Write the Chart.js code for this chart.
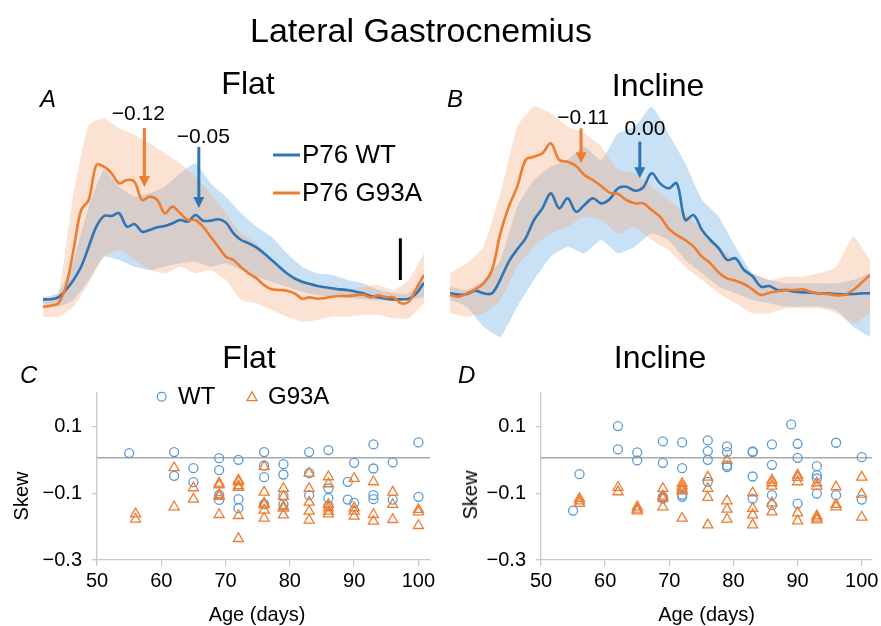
<!DOCTYPE html>
<html>
<head>
<meta charset="utf-8">
<script src="https://cdn.jsdelivr.net/npm/chart.js@4.4.0/dist/chart.umd.min.js"></script>
<style>
  html, body { margin: 0; background: #fff; }
  #page { position: relative; width: 881px; height: 626px; overflow: hidden; background: #fff;
          font-family: 'Liberation Sans', Arial, Helvetica, sans-serif; color: #000; }
  #page canvas { position: absolute; }
  .txt { position: absolute; white-space: nowrap; line-height: 1; }
</style>
</head>
<body>
<div id="page">
  <canvas id="flatTrace" width="440" height="330" style="left:0;top:40px"></canvas>
  <canvas id="inclineTrace" width="441" height="330" style="left:440px;top:40px"></canvas>
  <canvas id="flatSkew" width="440" height="246" style="left:0;top:380px"></canvas>
  <canvas id="inclineSkew" width="441" height="246" style="left:440px;top:380px"></canvas>
</div>
<script>
const FONT = "'Liberation Sans', Arial, Helvetica, sans-serif";

// % of gait cycle for the mean traces and for the shaded bands
const traceX = [0, 2, 4, 6, 8, 10, 12, 14, 16, 18, 20, 22, 24, 26, 28, 30, 32, 34, 36, 38, 40, 42, 44, 46, 48, 50,
  52, 54, 56, 58, 60, 62, 64, 66, 68, 70, 72, 74, 76, 78, 80, 82, 84, 86, 88, 90, 92, 94, 96, 98, 100];
const bandX = [0, 4, 8, 12, 16, 20, 24, 28, 32, 36, 40, 44, 48, 52, 56, 60, 64, 68, 72, 76, 80, 84, 88, 92, 96, 100];

// Flat (A)
const flatWtMean = [8.2, 8.2, 8.8, 11, 14, 18, 24, 30, 33.2, 33.2, 34, 30, 30.8, 28.5, 29, 29.8, 30.2, 31, 32, 31.5,
  33.5, 31.8, 31.8, 32.2, 31.2, 28, 26, 25, 23.8, 22, 20, 18, 16, 14.5, 13.5, 12.8, 12.2, 11.8, 11.5, 11.2, 11,
  10.5, 10, 9.2, 8.8, 8.4, 8.2, 8.2, 8.4, 10, 13.2];
const flatG93aMean = [6, 6.3, 7, 12, 23, 35, 38, 48.5, 48, 46, 43, 44, 43.5, 38, 39, 38, 34, 36, 34, 32, 32, 30, 27,
  24, 21, 20, 17.8, 16, 14.5, 12.5, 11.2, 11, 10.8, 10, 8.4, 8.8, 8.4, 8.6, 9, 9.2, 9.2, 9.4, 9.6, 8.8, 9.4, 8.8,
  8.8, 7, 7.5, 11.5, 15.5];
const flatWtUpper = [8.8, 10, 20, 36, 47, 42, 39, 40, 42, 46, 49, 43, 39, 34, 30, 27, 22, 18, 16, 15.5, 14, 13, 11, 10, 10, 14];
const flatWtLower = [7, 6, 8, 14, 21, 20, 18, 17, 18, 19, 19.5, 18, 19, 17, 15, 13.5, 12, 10.5, 9.5, 9, 8.5, 8.2, 7.8, 7.8, 8, 8.8];
const flatG93aUpper = [8, 10, 40, 60.5, 62.5, 59.5, 57.5, 55, 52, 49, 45, 40, 34, 28, 25, 20, 16, 14, 12, 12, 11, 12, 12.5, 11, 14, 22];
const flatG93aLower = [3, 3, 6, 13, 21, 23, 20, 17, 16, 18, 16, 17, 14, 8, 7, 5, 3, 1.5, 2, 3, 3, 3.5, 3.5, 2.5, 2.5, 7];

// Incline (B)
const inclineWtMean = [10, 9.6, 9.8, 10.8, 10, 10, 14.2, 19.5, 23.2, 26.5, 32, 35.5, 40, 35.5, 38.5, 34.5, 36.5,
  38.5, 37, 38.2, 41.5, 42, 40.8, 41.8, 46, 43, 41.5, 43, 32, 33.5, 29, 26, 23.5, 20, 20.5, 17, 15.2, 12, 12.2, 11,
  11, 10.5, 10.3, 10.2, 10, 10, 9.8, 9.7, 9.8, 10, 10];
const inclineG93aMean = [9.5, 9, 10, 11.2, 13, 17, 28, 36, 42, 50, 51, 52, 55, 50, 49.5, 48.2, 45.5, 44, 42.2, 40.2,
  39.8, 38, 37, 37, 35, 33, 29.5, 27.5, 26, 24, 21, 19, 16.2, 14.5, 13.8, 12.8, 11.2, 9.5, 10.2, 10.6, 11, 11, 11.2,
  10.4, 10, 9.8, 9.4, 9.6, 11, 13.2, 15.5];
const inclineWtUpper = [12, 11, 14, 20, 36, 44, 48, 50, 54, 50, 58, 60, 66, 58, 49, 38, 33, 24, 16, 14, 13, 13, 13, 13, 14, 16];
const inclineWtLower = [8, 6, 0, -3, 6, 14, 21, 24, 22, 26, 22, 24, 28, 26, 20, 16, 12, 10, 8, 7, 6, 6, 6, 5, 0, -3];
const inclineG93aUpper = [16, 19, 24, 40, 60, 66, 64, 60, 58, 54, 47, 46, 42, 38, 34, 29, 24, 20, 16, 14, 15, 15, 16, 18, 27, 20];
const inclineG93aLower = [4, 3, 4, 8, 18, 24, 28, 30, 33, 32, 28, 30, 26, 23, 18, 14, 10, 7, 4, 4, 5.5, 5.5, 5.5, 4, 1, 4];

// skew arrows: where on the cycle, arrow span, label and where the label sits
const flatArrows = [
  { text: '\u22120.12', group: 'G93A', at: 26.6, from: 59.6, to: 41.9, tx: 25.0, ty: 63.8 },
  { text: '\u22120.05', group: 'WT', at: 40.9, from: 53.9, to: 35.6, tx: 42.1, ty: 56.8 },
];
const inclineArrows = [
  { text: '\u22120.11', group: 'G93A', at: 31.2, from: 59.5, to: 49, tx: 31.7, ty: 62.6 },
  { text: '0.00', group: 'WT', at: 45.2, from: 55.5, to: 44.5, tx: 46.4, ty: 59.3 },
];
const flatScaleBar = { at: 93.8, from: 14, to: 26.5 };

// skew by age (days)
const ageTicks = [50, 60, 70, 80, 90, 100];
const skewTicks = [-0.3, -0.1, 0.1];
const refSkew = 0.006;

const flatWT = [
  [55, 0.020], [62, 0.023], [62, -0.048], [65, -0.025], [65, -0.067],
  [69, 0.005], [69, -0.031], [69, -0.105], [69, -0.120], [72, 0.000], [72, -0.118], [72, -0.145],
  [76, 0.023], [76, -0.017], [76, -0.052], [76, -0.133], [79, -0.013], [79, -0.044], [79, -0.107], [79, -0.133],
  [83, 0.023], [83, -0.040], [83, -0.106], [86, 0.029], [86, -0.086], [86, -0.115], [86, -0.138],
  [89, -0.066], [89, -0.119], [90, -0.009], [90, -0.129], [93, 0.046], [93, -0.026], [93, -0.106], [93, -0.118],
  [96, -0.008], [96, -0.119], [100, 0.052], [100, -0.111],
];
const flatG93A = [
  [56, -0.162], [56, -0.178], [62, -0.024], [62, -0.141], [65, -0.084], [65, -0.118],
  [69, -0.070], [69, -0.075], [69, -0.105], [69, -0.110], [69, -0.164],
  [72, -0.061], [72, -0.066], [72, -0.078], [72, -0.083], [72, -0.167], [72, -0.236],
  [76, -0.021], [76, -0.097], [76, -0.130], [76, -0.135], [76, -0.151], [76, -0.175],
  [79, -0.086], [79, -0.110], [79, -0.140], [79, -0.145], [79, -0.165],
  [83, -0.040], [83, -0.086], [83, -0.127], [83, -0.154], [83, -0.181],
  [86, -0.051], [86, -0.072], [86, -0.134], [86, -0.144], [86, -0.154], [86, -0.162],
  [90, -0.056], [90, -0.144], [90, -0.154], [90, -0.169], [93, -0.066], [93, -0.164], [93, -0.184],
  [96, -0.097], [96, -0.134], [96, -0.179], [100, -0.149], [100, -0.156], [100, -0.197],
];
const inclineWT = [
  [55, -0.152], [56, -0.043], [62, 0.101], [62, 0.031], [65, 0.022], [65, -0.002],
  [69, 0.055], [69, -0.009], [69, -0.110], [69, -0.116], [72, 0.052], [72, -0.025], [72, -0.105], [72, -0.111],
  [76, 0.058], [76, 0.026], [76, 0.000], [76, -0.066], [79, 0.040], [79, 0.023], [79, -0.017], [79, -0.022],
  [83, 0.025], [83, 0.023], [83, -0.050], [83, -0.116], [86, 0.046], [86, -0.015], [86, -0.106], [86, -0.136],
  [89, 0.106], [90, 0.048], [90, 0.006], [90, -0.131], [93, -0.019], [93, -0.046], [93, -0.056], [93, -0.101],
  [96, 0.051], [96, -0.106], [100, 0.008], [100, -0.119],
];
const inclineG93A = [
  [56, -0.116], [56, -0.123], [56, -0.131], [62, -0.083], [62, -0.096], [65, -0.141], [65, -0.148], [65, -0.153],
  [69, -0.086], [69, -0.109], [69, -0.116], [69, -0.141], [72, -0.071], [72, -0.079], [72, -0.087], [72, -0.093], [72, -0.175],
  [76, -0.052], [76, -0.086], [76, -0.113], [76, -0.195], [79, -0.002], [79, -0.123], [79, -0.148], [79, -0.178],
  [83, -0.099], [83, -0.146], [83, -0.165], [83, -0.195], [86, -0.061], [86, -0.069], [86, -0.079], [86, -0.129], [86, -0.156],
  [90, -0.046], [90, -0.053], [90, -0.066], [90, -0.159], [90, -0.183], [93, -0.069], [93, -0.079], [93, -0.168], [93, -0.175], [93, -0.180],
  [96, -0.081], [96, -0.134], [96, -0.141], [100, -0.052], [100, -0.103], [100, -0.172],
];

const BLUE = '#2e75b6';
const ORANGE = '#ed7d31';
const BLUE_BAND = 'rgba(120,180,230,0.4)';
const ORANGE_BAND = 'rgba(245,165,115,0.32)';
const MARK_BLUE = '#5b9bd5';
const MARK_ORANGE = '#ed7d31';
const AXIS = '#c8c8c8';
const groupColor = { WT: BLUE, G93A: ORANGE };

Chart.defaults.font.family = FONT;
Chart.defaults.color = '#000';

const pts = (xs, ys) => xs.map((x, i) => ({ x, y: ys[i] }));
const fmtSkew = v => (v < 0 ? '\u2212' : '') + Math.abs(v).toFixed(1);

// arrows, scale bar and the P76 legend on the trace panels
const traceDecor = {
  id: 'traceDecor',
  afterDatasetsDraw(chart, args, o) {
    const { ctx } = chart;
    const { x, y } = chart.scales;
    ctx.save();
    o.arrows.forEach(a => {
      const px = x.getPixelForValue(a.at);
      const y0 = y.getPixelForValue(a.from);
      const y1 = y.getPixelForValue(a.to);
      ctx.strokeStyle = ctx.fillStyle = groupColor[a.group];
      ctx.lineWidth = 3;
      ctx.beginPath();
      ctx.moveTo(px, y0);
      ctx.lineTo(px, y1 - 9);
      ctx.stroke();
      ctx.beginPath();
      ctx.moveTo(px - 5.5, y1 - 11);
      ctx.lineTo(px + 5.5, y1 - 11);
      ctx.lineTo(px, y1);
      ctx.closePath();
      ctx.fill();
      ctx.fillStyle = '#000';
      ctx.font = `21px ${FONT}`;
      ctx.textAlign = 'center';
      ctx.textBaseline = 'middle';
      ctx.fillText(a.text, x.getPixelForValue(a.tx), y.getPixelForValue(a.ty));
    });
    if (o.bar) {
      const px = x.getPixelForValue(o.bar.at);
      ctx.strokeStyle = '#000';
      ctx.lineWidth = 3;
      ctx.beginPath();
      ctx.moveTo(px, y.getPixelForValue(o.bar.from));
      ctx.lineTo(px, y.getPixelForValue(o.bar.to));
      ctx.stroke();
    }
    if (o.legend) {
      ctx.font = `26px ${FONT}`;
      ctx.textAlign = 'left';
      ctx.textBaseline = 'middle';
      o.legend.forEach((item, i) => {
        const ly = 115 + i * 38;
        ctx.strokeStyle = groupColor[item.group];
        ctx.lineWidth = 3;
        ctx.beginPath();
        ctx.moveTo(273, ly);
        ctx.lineTo(300, ly);
        ctx.stroke();
        ctx.fillStyle = '#000';
        ctx.fillText(item.text, 302, ly + 1);
      });
    }
    ctx.restore();
  }
};

function traceChart(id, wtMean, gMean, wtUp, wtLo, gUp, gLo, padding, decor) {
  const band = (data, fill, color) => ({
    data, fill, backgroundColor: color, borderColor: 'transparent', borderWidth: 0, pointRadius: 0, tension: 0.15
  });
  return new Chart(document.getElementById(id), {
    type: 'line',
    data: {
      datasets: [
        { data: pts(traceX, gMean), borderColor: ORANGE, borderWidth: 2.6, pointRadius: 0, tension: 0.35, fill: false },
        { data: pts(traceX, wtMean), borderColor: BLUE, borderWidth: 2.6, pointRadius: 0, tension: 0.35, fill: false },
        band(pts(bandX, gUp), '+1', ORANGE_BAND),
        band(pts(bandX, gLo), false, 'transparent'),
        band(pts(bandX, wtUp), '+1', BLUE_BAND),
        band(pts(bandX, wtLo), false, 'transparent'),
      ]
    },
    options: {
      responsive: false,
      animation: false,
      devicePixelRatio: 1,
      layout: { padding },
      scales: {
        x: { type: 'linear', min: 0, max: 100, display: false },
        y: { min: -10, max: 80, display: false }
      },
      plugins: { legend: { display: false }, tooltip: { enabled: false }, traceDecor: decor }
    },
    plugins: [traceDecor]
  });
}

// zero line and the WT / G93A key on the skew panels
const skewDecor = {
  id: 'skewDecor',
  beforeDatasetsDraw(chart, args, o) {
    const { ctx, chartArea } = chart;
    const py = chart.scales.y.getPixelForValue(o.ref);
    ctx.save();
    ctx.strokeStyle = '#aaaaaa';
    ctx.lineWidth = 1.5;
    ctx.beginPath();
    ctx.moveTo(chartArea.left, py);
    ctx.lineTo(chartArea.right, py);
    ctx.stroke();
    ctx.restore();
  },
  afterDraw(chart, args, o) {
    if (!o.legend) return;
    const { ctx } = chart;
    const ly = 16.7;
    ctx.save();
    ctx.lineWidth = 1.3;
    ctx.strokeStyle = MARK_BLUE;
    ctx.beginPath();
    ctx.arc(161.7, ly, 4.4, 0, Math.PI * 2);
    ctx.stroke();
    ctx.strokeStyle = MARK_ORANGE;
    ctx.beginPath();
    for (let k = 0; k < 3; k++) {
      const ang = k * 2 * Math.PI / 3;
      const vx = 252 + Math.sin(ang) * 5.8, vy = ly + 1 - Math.cos(ang) * 5.8;
      k ? ctx.lineTo(vx, vy) : ctx.moveTo(vx, vy);
    }
    ctx.closePath();
    ctx.stroke();
    ctx.fillStyle = '#000';
    ctx.font = `24px ${FONT}`;
    ctx.textAlign = 'left';
    ctx.textBaseline = 'middle';
    ctx.fillText('WT', 178, ly + 1);
    ctx.fillText('G93A', 268, ly + 1);
    ctx.restore();
  }
};

function skewChart(id, wt, g, o) {
  const toPts = arr => arr.map(([x, y]) => ({ x, y }));
  return new Chart(document.getElementById(id), {
    type: 'scatter',
    data: {
      datasets: [
        { data: toPts(g), pointStyle: 'triangle', pointRadius: 5.8, pointBorderWidth: 1.3,
          borderColor: MARK_ORANGE, backgroundColor: 'transparent' },
        { data: toPts(wt), pointStyle: 'circle', pointRadius: 4.5, pointBorderWidth: 1.3,
          borderColor: MARK_BLUE, backgroundColor: 'transparent' },
      ]
    },
    options: {
      responsive: false,
      animation: false,
      devicePixelRatio: 1,
      layout: { padding: { top: 13, right: o.right, left: 0, bottom: 0 } },
      scales: {
        x: {
          type: 'linear', min: 50, max: o.xMax,
          afterBuildTicks: s => { s.ticks = ageTicks.map(value => ({ value })); },
          afterFit: s => { s.height = 66; s.paddingLeft = 0; s.paddingRight = 0; },
          ticks: { font: { size: 20 }, color: '#000', padding: 3 },
          grid: { drawOnChartArea: false, tickLength: 6, color: AXIS, lineWidth: 1.3 },
          border: { color: AXIS, width: 1.3 }
        },
        y: {
          min: -0.3, max: 0.2,
          afterBuildTicks: s => { s.ticks = skewTicks.map(value => ({ value })); },
          afterFit: s => { s.width = o.axisW; s.paddingTop = 0; s.paddingBottom = 0; },
          ticks: { font: { size: 20 }, color: '#000', padding: 10, callback: v => fmtSkew(v) },
          grid: { drawOnChartArea: false, tickLength: 5, color: AXIS, lineWidth: 1.3 },
          border: { color: AXIS, width: 1.3 }
        }
      },
      plugins: {
        legend: { display: false },
        tooltip: { enabled: false },
        skewDecor: { ref: refSkew, legend: o.legend }
      }
    },
    plugins: [skewDecor]
  });
}

traceChart('flatTrace', flatWtMean, flatG93aMean, flatWtUpper, flatWtLower, flatG93aUpper, flatG93aLower,
  { left: 43, right: 16, top: 20, bottom: 10 },
  { arrows: flatArrows, bar: flatScaleBar,
    legend: [{ text: 'P76 WT', group: 'WT' }, { text: 'P76 G93A', group: 'G93A' }] });
traceChart('inclineTrace', inclineWtMean, inclineG93aMean, inclineWtUpper, inclineWtLower, inclineG93aUpper, inclineG93aLower,
  { left: 10, right: 11, top: 20, bottom: 10 },
  { arrows: inclineArrows, bar: null, legend: null });

skewChart('flatSkew', flatWT, flatG93A, { xMax: 101.8, axisW: 97, right: 10, legend: true });
skewChart('inclineSkew', inclineWT, inclineG93A, { xMax: 101.6, axisW: 101, right: 9, legend: false });

// titles, panel letters and axis titles
const page = document.getElementById('page');
function addText(str, x, base, size, opts = {}) {
  const d = document.createElement('div');
  d.className = 'txt';
  d.textContent = str;
  d.style.fontSize = size + 'px';
  if (opts.italic) d.style.fontStyle = 'italic';
  if (opts.rotate) {
    d.style.left = x + 'px';
    d.style.top = base + 'px';
    d.style.transform = 'translate(-50%, -50%) rotate(-90deg)';
  } else {
    d.style.left = x + 'px';
    d.style.top = (base - 0.8465 * size) + 'px';
    if (!opts.left) d.style.transform = 'translateX(-50%)';
  }
  page.appendChild(d);
}
addText('Lateral Gastrocnemius', 421, 41.7, 34);
addText('Flat', 248, 94.5, 32);
addText('Incline', 658, 96, 32);
addText('A', 40, 107, 24, { italic: true, left: true });
addText('B', 447, 107, 24, { italic: true, left: true });
addText('Flat', 249, 368, 32);
addText('Incline', 660, 368, 32);
addText('C', 20, 383, 24, { italic: true, left: true });
addText('D', 458, 383, 24, { italic: true, left: true });
addText('Age (days)', 257, 620.5, 20);
addText('Age (days)', 706.5, 620.5, 20);
addText('Skew', 21, 496, 20, { rotate: true });
addText('Skew', 470, 495, 20, { rotate: true });
</script>
</body>
</html>
